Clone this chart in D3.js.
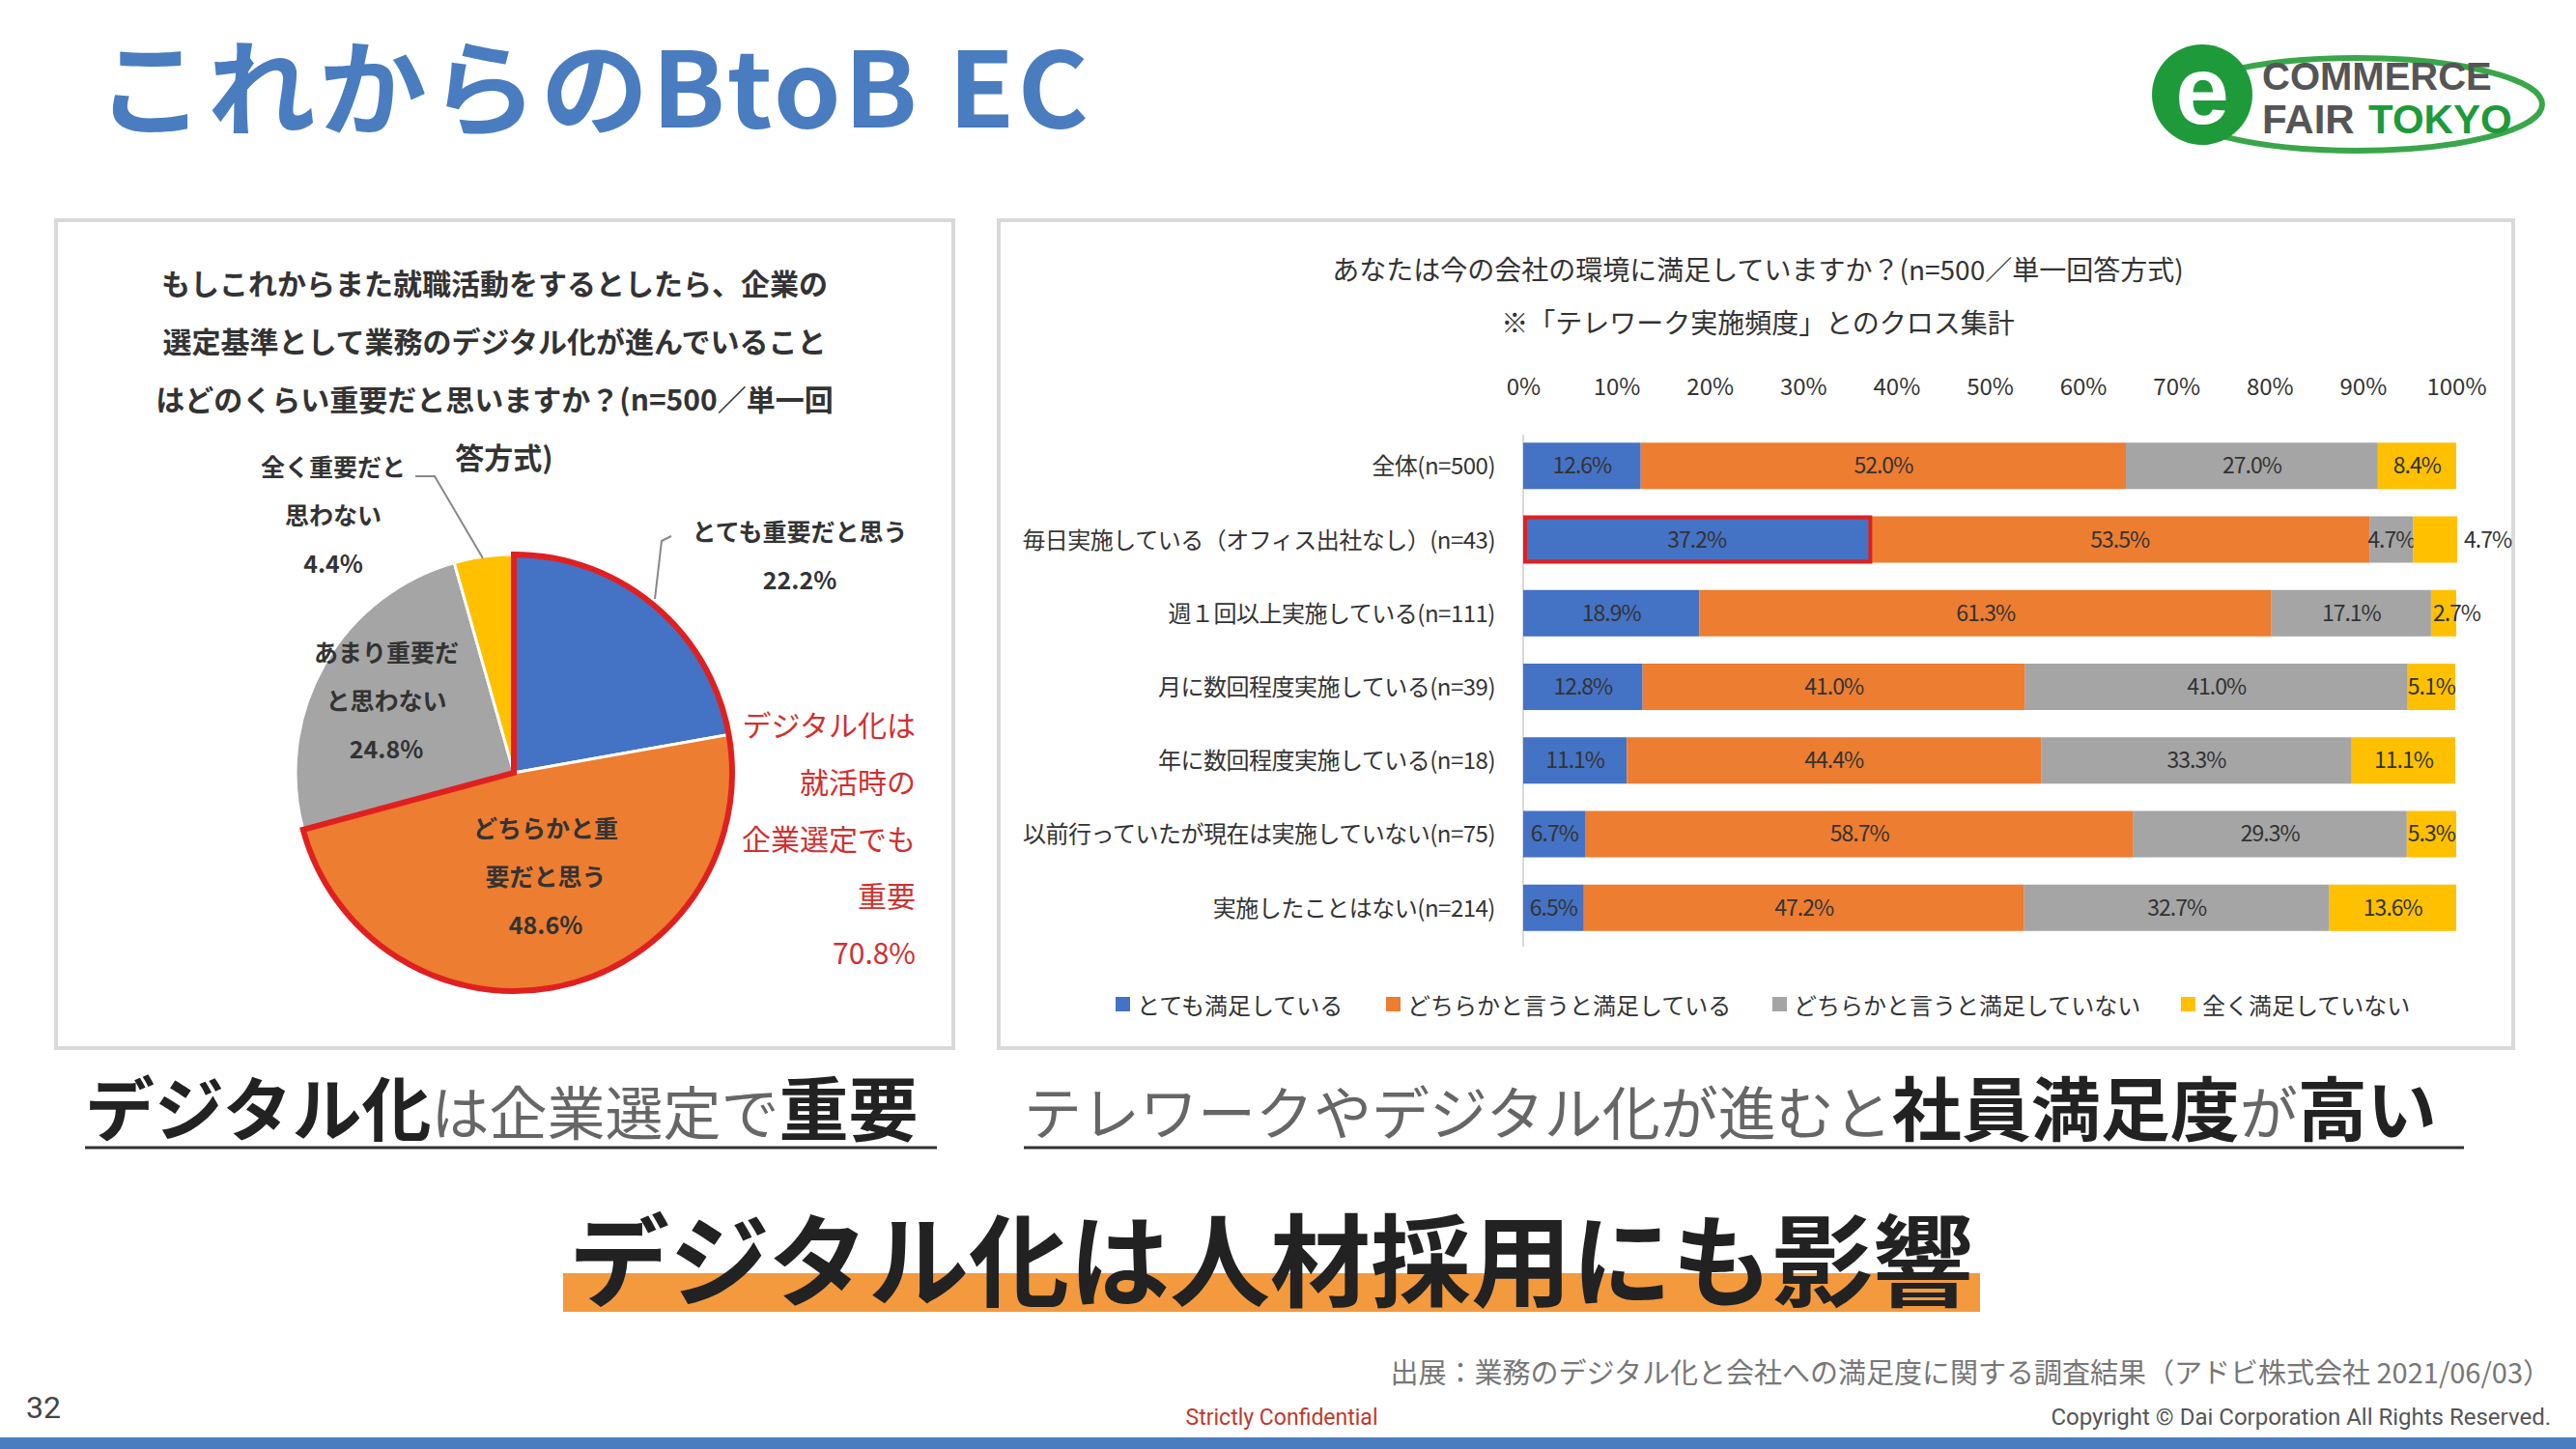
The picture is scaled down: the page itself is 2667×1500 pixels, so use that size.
<!DOCTYPE html>
<html><head><meta charset="utf-8">
<script src="https://cdn.jsdelivr.net/npm/d3@7"></script>
<style>body{margin:0;background:#fff}svg{display:block;font-family:"Noto Sans CJK JP","Noto Sans",sans-serif}</style>
</head><body><svg id="c" width="2667" height="1500"></svg>
<script>
const pieLabels=["とても重要だと思う","どちらかと重要だと思う","あまり重要だと思わない","全く重要だと思わない"];
const pieValues=[22.2,48.6,24.8,4.4];
const barCats=["全体(n=500)","毎日実施している（オフィス出社なし）(n=43)","週１回以上実施している(n=111)","月に数回程度実施している(n=39)","年に数回程度実施している(n=18)","以前行っていたが現在は実施していない(n=75)","実施したことはない(n=214)"];
const seriesNames=["とても満足している","どちらかと言うと満足している","どちらかと言うと満足していない","全く満足していない"];
const s1=[12.6,37.2,18.9,12.8,11.1,6.7,6.5];
const s2=[52.0,53.5,61.3,41.0,44.4,58.7,47.2];
const s3=[27.0,4.7,17.1,41.0,33.3,29.3,32.7];
const s4=[8.4,4.7,2.7,5.1,11.1,5.3,13.6];
const ticks=[0,10,20,30,40,50,60,70,80,90,100];
const colors=["#4472c4","#ed7d31","#a5a5a5","#ffc000"];

const svg=d3.select("#c");
svg.append("text").attr("x",100).attr("y",132).attr("font-size",108).attr("font-weight",700).attr("letter-spacing",3).attr("fill","#4a7cc0").attr("textLength",1030).attr("lengthAdjust","spacingAndGlyphs").text("これからのBtoB EC");
// logo
const lg=svg.append("g");
lg.append("ellipse").attr("cx",2440).attr("cy",108).attr("rx",192).attr("ry",48).attr("fill","none").attr("stroke","#3aa64a").attr("stroke-width",6);
lg.append("circle").attr("cx",2280).attr("cy",98).attr("r",52).attr("fill","#1e9a3a");
lg.append("text").attr("x",2280).attr("y",128).attr("text-anchor","middle").attr("font-size",100).attr("font-weight",700).attr("fill","#fff").attr("font-family","Arial,Liberation Sans").text("e");
lg.append("text").attr("x",2342).attr("y",93).attr("font-size",40).attr("font-weight",700).attr("fill","#555").attr("font-family","Liberation Sans").text("COMMERCE");
lg.append("text").attr("x",2342).attr("y",138).attr("font-size",42).attr("font-weight",700).attr("fill","#555").attr("font-family","Liberation Sans").text("FAIR");
lg.append("text").attr("x",2452).attr("y",138).attr("font-size",42).attr("font-weight",700).attr("fill","#1e9a3a").attr("font-family","Liberation Sans").text("TOKYO");

svg.append("rect").attr("x",58).attr("y",228).attr("width",929).attr("height",857).attr("fill","#fff").attr("stroke","#d9d9d9").attr("stroke-width",4);
svg.append("rect").attr("x",1034).attr("y",228).attr("width",1568).attr("height",857).attr("fill","#fff").attr("stroke","#d9d9d9").attr("stroke-width",4);

const pt=["もしこれからまた就職活動をするとしたら、企業の","選定基準として業務のデジタル化が進んでいること","はどのくらい重要だと思いますか？(n=500／単一回","答方式)"];
pt.forEach((t,i)=>svg.append("text").attr("x",i<3?512:522).attr("y",305+i*60).attr("text-anchor","middle").attr("font-size",30).attr("font-weight",700).attr("fill","#333").text(t));
const cx=532,cy=800,R=226;
const pie=d3.pie().sort(null).value(d=>d)(pieValues);
const arc=d3.arc().innerRadius(0).outerRadius(R);
const pg=svg.append("g").attr("transform",`translate(${cx},${cy})`);
pg.selectAll("path").data(pie).join("path").attr("d",arc).attr("fill",(d,i)=>colors[i]).attr("stroke","#fff").attr("stroke-width",3);
const big={startAngle:pie[0].startAngle,endAngle:pie[1].endAngle};
pg.append("path").attr("d",d3.arc().innerRadius(0).outerRadius(R)(big)).attr("fill","none").attr("stroke","#e02020").attr("stroke-width",6);
const pl=(x,y,lines,anchor="middle",col="#333",fs=25)=>lines.forEach((t,i)=>svg.append("text").attr("x",x).attr("y",y+i*50).attr("text-anchor",anchor).attr("font-size",fs).attr("font-weight",700).attr("fill",col).text(t));
pl(828,560,["とても重要だと思う",pieValues[0].toFixed(1)+"%"]);
pl(565,867,["どちらかと重","要だと思う",pieValues[1].toFixed(1)+"%"]);
pl(400,685,["あまり重要だ","と思わない",pieValues[2].toFixed(1)+"%"]);
pl(345,493,["全く重要だと","思わない",pieValues[3].toFixed(1)+"%"]);
svg.append("path").attr("d","M430,493 L450,493 L500,578").attr("fill","none").attr("stroke","#888").attr("stroke-width",2);
svg.append("path").attr("d","M695,555 L685,560 L678,620").attr("fill","none").attr("stroke","#888").attr("stroke-width",2);
["デジタル化は","就活時の","企業選定でも","重要",(pieValues[0]+pieValues[1]).toFixed(1)+"%"].forEach((t,i)=>svg.append("text").attr("x",948).attr("y",762+i*59).attr("text-anchor","end").attr("font-size",30).attr("fill","#d03030").text(t));

svg.append("text").attr("x",1820).attr("y",290).attr("text-anchor","middle").attr("font-size",28).attr("fill","#333").text("あなたは今の会社の環境に満足していますか？(n=500／単一回答方式)");
svg.append("text").attr("x",1820).attr("y",345).attr("text-anchor","middle").attr("font-size",28).attr("fill","#333").text("※「テレワーク実施頻度」とのクロス集計");
const x=d3.scaleLinear().domain([0,100]).range([1577,2543]);
const y=d3.scaleBand().domain(barCats).range([443,979]).paddingInner(0.37).paddingOuter(0.2);
const ax=svg.append("g").attr("transform","translate(0,412)").call(d3.axisTop(x).tickValues(ticks).tickFormat(d=>d+"%").tickSize(0));
ax.select(".domain").remove();ax.selectAll("text").attr("font-size",24).attr("fill","#333").attr("font-family","Noto Sans CJK JP");
svg.append("line").attr("x1",1577).attr("x2",1577).attr("y1",450).attr("y2",980).attr("stroke","#d9d9d9").attr("stroke-width",2);
const series=[s1,s2,s3,s4];
barCats.forEach((c,ri)=>{
  let acc=0;
  series.forEach((s,si)=>{
    const v=s[ri];
    svg.append("rect").attr("x",x(acc)).attr("y",y(c)).attr("width",x(acc+v)-x(acc)).attr("height",y.bandwidth()).attr("fill",colors[si]);
    let tx=x(acc+v/2), anchor="middle";
    if(ri===1&&si===3){tx=x(100)+8;anchor="start";}
    if(ri===2&&si===3){tx=x(acc)+2;anchor="start";}
    svg.append("text").attr("x",tx).attr("y",y(c)+y.bandwidth()/2+8).attr("text-anchor",anchor).attr("font-size",23).attr("fill","#333").attr("letter-spacing",-1).text(v.toFixed(1)+"%");
    acc+=v;
  });
  svg.append("text").attr("x",1548).attr("y",y(c)+y.bandwidth()/2+9).attr("text-anchor","end").attr("font-size",24).attr("letter-spacing",-0.5).attr("fill","#333").text(c);
});
svg.append("rect").attr("x",x(0)+2).attr("y",y(barCats[1])+1).attr("width",x(s1[1])-x(0)-2).attr("height",y.bandwidth()-2).attr("fill","none").attr("stroke","#e02020").attr("stroke-width",4);
const lgx=[1155,1435,1835,2258];
seriesNames.forEach((n,i)=>{
  svg.append("rect").attr("x",lgx[i]).attr("y",1032).attr("width",15).attr("height",15).attr("fill",colors[i]);
  svg.append("text").attr("x",lgx[i]+22).attr("y",1050).attr("font-size",24).attr("fill","#333").text(n);
});

const sub=(xs,y,parts,ulx1,ulx2,len)=>{
  const t=svg.append("text").attr("x",xs).attr("y",y);
  parts.forEach(p=>t.append("tspan").attr("font-size",p[1]?72:60).attr("font-weight",p[1]?700:400).attr("fill",p[1]?"#222":"#666").text(p[0]));
  svg.append("line").attr("x1",ulx1).attr("x2",ulx2).attr("y1",1188).attr("y2",1188).attr("stroke","#333").attr("stroke-width",3);
};
sub(88,1175,[["デジタル化",1],["は企業選定で",0],["重要",1]],88,970);
sub(1060,1175,[["テレワークやデジタル化が進むと",0],["社員満足度",1],["が",0],["高い",1]],1060,2551);
svg.append("rect").attr("x",583).attr("y",1318).attr("width",1467).attr("height",40).attr("fill","#f39a3e");
svg.append("text").attr("x",1316).attr("y",1345).attr("text-anchor","middle").attr("font-size",104).attr("font-weight",700).attr("fill","#222").text("デジタル化は人材採用にも影響");
svg.append("text").attr("x",2641).attr("y",1432).attr("text-anchor","end").attr("font-size",29).attr("fill","#777").text("出展：業務のデジタル化と会社への満足度に関する調査結果（アドビ株式会社 2021/06/03）");
svg.append("text").attr("x",27).attr("y",1468).attr("font-size",32).attr("fill","#444").attr("font-family","Roboto").text("32");
svg.append("text").attr("x",1327).attr("y",1475).attr("text-anchor","middle").attr("font-size",23).attr("fill","#c0392b").attr("font-family","Roboto").text("Strictly Confidential");
svg.append("text").attr("x",2641).attr("y",1475).attr("text-anchor","end").attr("font-size",24).attr("fill","#555").attr("font-family","Roboto").text("Copyright © Dai Corporation All Rights Reserved.");
svg.append("rect").attr("x",0).attr("y",1488).attr("width",2667).attr("height",12).attr("fill","#4a7cc0");
</script></body></html>
